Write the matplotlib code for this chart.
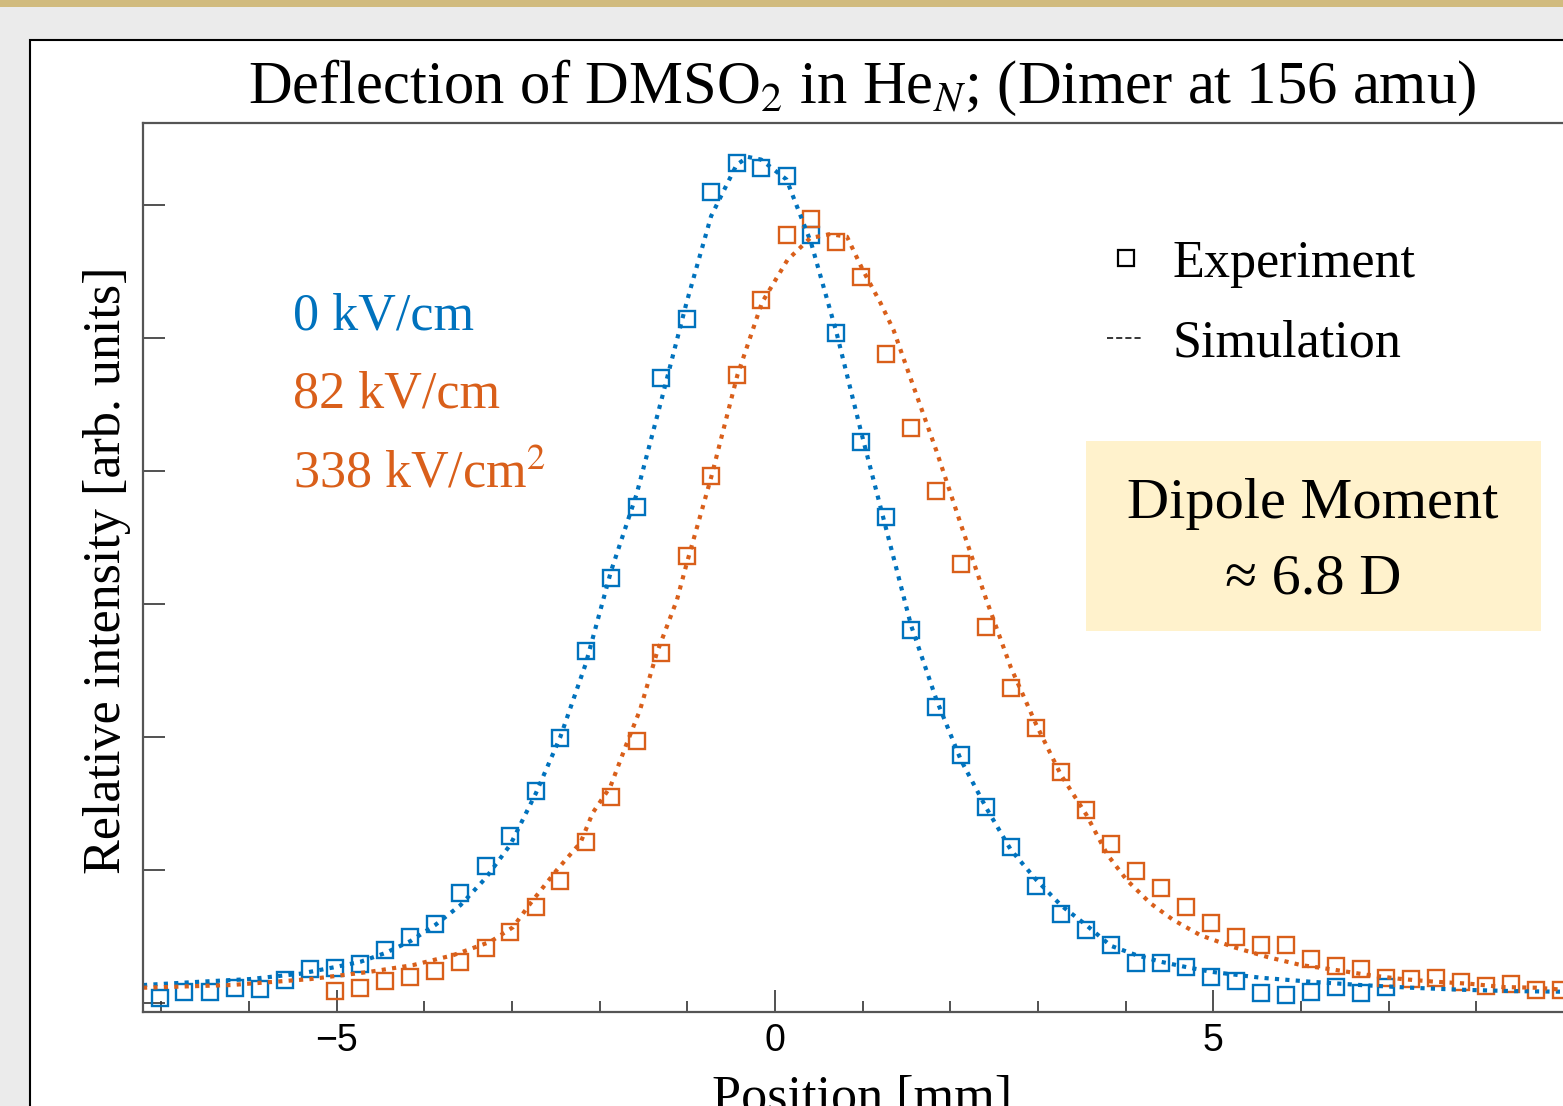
import matplotlib
matplotlib.use('Agg')
import matplotlib.pyplot as plt
from matplotlib.patches import Rectangle
from matplotlib.lines import Line2D

plt.rcParams['font.family'] = ['Liberation Serif', 'DejaVu Serif']
plt.rcParams['mathtext.fontset'] = 'stix'

# experiment, 0 kV/cm
x_exp0 = [-7.02, -6.74, -6.45, -6.16, -5.87, -5.59, -5.30, -5.02, -4.73, -4.45,
          -4.16, -3.88, -3.59, -3.30, -3.02, -2.73, -2.45, -2.16, -1.87, -1.58,
          -1.30, -1.01, -0.73, -0.44, -0.16, 0.13, 0.41, 0.70, 0.98, 1.27,
          1.55, 1.84, 2.12, 2.41, 2.69, 2.98, 3.26, 3.55, 3.83, 4.12,
          4.40, 4.69, 4.97, 5.26, 5.54, 5.83, 6.11, 6.40, 6.68, 6.97]
y_exp0 = [0.008, 0.017, 0.017, 0.023, 0.021, 0.035, 0.051, 0.053, 0.059, 0.080,
          0.099, 0.119, 0.165, 0.206, 0.251, 0.319, 0.398, 0.529, 0.639, 0.746,
          0.940, 1.029, 1.220, 1.263, 1.256, 1.244, 1.154, 1.008, 0.844, 0.731,
          0.561, 0.445, 0.373, 0.295, 0.235, 0.176, 0.134, 0.110, 0.087, 0.060,
          0.060, 0.054, 0.039, 0.033, 0.015, 0.012, 0.017, 0.024, 0.015, 0.024]

# experiment, 82 kV/cm
x_exp82 = [-5.02, -4.73, -4.45, -4.16, -3.88, -3.59, -3.30, -3.02, -2.73, -2.45,
           -2.16, -1.87, -1.58, -1.30, -1.01, -0.73, -0.44, -0.16, 0.13, 0.41,
           0.70, 0.98, 1.27, 1.55, 1.84, 2.12, 2.41, 2.69, 2.98, 3.26,
           3.55, 3.83, 4.12, 4.40, 4.69, 4.97, 5.26, 5.54, 5.83, 6.11,
           6.40, 6.68, 6.97, 7.25, 7.54, 7.82, 8.11, 8.39, 8.68, 8.96]
y_exp82 = [0.018, 0.023, 0.033, 0.039, 0.048, 0.062, 0.083, 0.107, 0.144, 0.183,
           0.242, 0.310, 0.394, 0.526, 0.672, 0.793, 0.944, 1.057, 1.155, 1.179,
           1.144, 1.092, 0.976, 0.865, 0.770, 0.660, 0.565, 0.474, 0.414, 0.347,
           0.290, 0.239, 0.198, 0.173, 0.144, 0.120, 0.099, 0.087, 0.087, 0.066,
           0.056, 0.051, 0.038, 0.036, 0.038, 0.032, 0.026, 0.029, 0.020, 0.020]

# simulation, 0 kV/cm
x_sim0 = [-7.21, -6.56, -5.99, -5.42, -5.02, -4.73, -4.45, -4.16, -3.88, -3.59,
          -3.30, -3.02, -2.73, -2.45, -2.16, -1.87, -1.58, -1.30, -1.01, -0.73,
          -0.44, -0.31, -0.16, 0.13, 0.41, 0.70, 0.98, 1.27, 1.55, 1.84,
          2.12, 2.41, 2.69, 2.98, 3.26, 3.55, 3.83, 4.12, 4.40, 4.69,
          4.97, 5.54, 6.11, 6.68, 7.25, 7.82, 8.39, 8.99]
y_sim0 = [0.027, 0.032, 0.036, 0.044, 0.054, 0.062, 0.075, 0.093, 0.117, 0.147,
          0.188, 0.238, 0.315, 0.400, 0.510, 0.650, 0.765, 0.905, 1.053, 1.183,
          1.260, 1.272, 1.268, 1.238, 1.143, 1.008, 0.859, 0.711, 0.568, 0.456,
          0.365, 0.293, 0.230, 0.185, 0.147, 0.117, 0.086, 0.072, 0.062, 0.054,
          0.047, 0.038, 0.032, 0.027, 0.023, 0.020, 0.018, 0.017]

# simulation, 82 kV/cm
x_sim82 = [-7.21, -6.21, -5.30, -4.62, -4.13, -3.67, -3.25, -2.99, -2.79, -2.49,
           -2.22, -2.08, -1.88, -1.69, -1.54, -1.35, -1.12, -1.01, -0.73, -0.43,
           -0.15, 0.14, 0.40, 0.63, 0.82, 1.00, 1.20, 1.35, 1.54, 1.84,
           2.12, 2.41, 2.69, 2.98, 3.26, 3.55, 3.79, 4.01, 4.28, 4.54,
           4.85, 5.23, 5.62, 6.00, 6.38, 6.77, 7.15, 7.53, 7.92, 8.30, 8.68, 8.99]
y_sim82 = [0.023, 0.027, 0.036, 0.047, 0.057, 0.072, 0.092, 0.114, 0.150, 0.200,
           0.241, 0.286, 0.325, 0.391, 0.441, 0.526, 0.606, 0.660, 0.790, 0.944,
           1.053, 1.117, 1.150, 1.156, 1.152, 1.102, 1.053, 1.012, 0.941, 0.830,
           0.719, 0.606, 0.504, 0.418, 0.343, 0.283, 0.223, 0.185, 0.150, 0.125,
           0.102, 0.084, 0.069, 0.057, 0.050, 0.042, 0.036, 0.032, 0.029, 0.024, 0.023, 0.020]

field_labels = ['0 kV/cm', '82 kV/cm', '338 kV/cm$^2$']
xtick_pos = [-5, 0, 5]
xtick_labels = ['\u22125', '0', '5']
xtick_minor = [-7, -6, -4, -3, -2, -1, 1, 2, 3, 4, 6, 7, 8, 9]
ytick_pos = [0, 0.2, 0.4, 0.6, 0.8, 1.0, 1.2]

W, H = 1563, 1106
BLUE = '#0072BD'
ORANGE = '#D95F1A'


def fx(px):
    return px / W


def fy(py):
    return 1 - py / H


fig = plt.figure(figsize=(W / 100, H / 100), dpi=100)
fig.patch.set_facecolor('#EBEBEB')

# slide decoration: gold bar and white panel
fig.add_artist(Rectangle((0, fy(7)), 1, 7 / H, transform=fig.transFigure,
                         facecolor='#D1BB7E', edgecolor='none', zorder=-10))
fig.add_artist(Rectangle((fx(30), fy(1300)), 1700 / W, 1260 / H, transform=fig.transFigure,
                         facecolor='white', edgecolor='black', lw=1.5, zorder=-9))

ax = fig.add_axes([fx(143), fy(1012), (1608 - 143) / W, (1012 - 123) / H])
ax.set_xlim(-7.21, 9.5)
ax.set_ylim(-0.0135, 1.323)

ax.plot(x_exp0, y_exp0, 's', ms=12, mfc='none', mec=BLUE, mew=1.7)
ax.plot(x_exp82, y_exp82, 's', ms=12, mfc='none', mec=ORANGE, mew=1.7)
ax.plot(x_sim0, y_sim0, color=BLUE, lw=3.0, ls=(0, (1, 1.5)), dash_capstyle='butt')
ax.plot(x_sim82, y_sim82, color=ORANGE, lw=3.0, ls=(0, (1, 1.5)), dash_capstyle='butt')

ax.set_xticks(xtick_pos)
ax.set_xticklabels(xtick_labels, family='Liberation Sans', fontsize=27)
ax.set_xticks(xtick_minor, minor=True)
ax.set_yticks(ytick_pos)
ax.set_yticklabels([])
ax.tick_params(which='major', direction='in', length=16, width=1.2, color='#333333', pad=8)
ax.tick_params(which='minor', direction='in', length=8, width=1.2, color='#333333')
for s in ax.spines.values():
    s.set_linewidth(1.6)
    s.set_color('#555555')

# titles
fig.text(fx(862), fy(103), 'Deflection of DMSO$_2$ in He$_N$; (Dimer at 156 amu)',
         ha='center', va='baseline', fontsize=43.7)
fig.text(fx(107), fy(570), 'Relative intensity [arb. units]', rotation=90,
         ha='center', va='center', fontsize=37.5)
fig.text(fx(862), fy(1112), 'Position [mm]', ha='center', va='baseline', fontsize=37.5)

# field labels
fig.text(fx(293), fy(330), field_labels[0], color=BLUE, fontsize=37.5, va='baseline')
fig.text(fx(293), fy(408), field_labels[1], color=ORANGE, fontsize=37.5, va='baseline')
fig.text(fx(293), fy(487), field_labels[2], color=ORANGE, fontsize=37.5, va='baseline')

# legend
fig.add_artist(Line2D([fx(1126)], [fy(258)], marker='s', ms=11, mfc='none', mec='black',
                      mew=1.6, transform=fig.transFigure))
fig.add_artist(Line2D([fx(1107), fx(1143)], [fy(338), fy(338)], color='black', lw=1.1,
                      ls=(0, (4, 2)), transform=fig.transFigure))
fig.text(fx(1172), fy(277), 'Experiment', fontsize=37.5, va='baseline')
fig.text(fx(1172), fy(357), 'Simulation', fontsize=37.5, va='baseline')

# dipole box
fig.add_artist(Rectangle((fx(1086), fy(631)), (1541 - 1086) / W, (631 - 441) / H,
                         transform=fig.transFigure, facecolor='#FFF2CC', edgecolor='none', zorder=5))
fig.text(fx(1313), fy(518), 'Dipole Moment', ha='center', va='baseline', fontsize=42, zorder=6)
fig.text(fx(1313), fy(593), '\u2248 6.8 D', ha='center', va='baseline', fontsize=42, zorder=6)

fig.savefig('out.png', dpi=100)
